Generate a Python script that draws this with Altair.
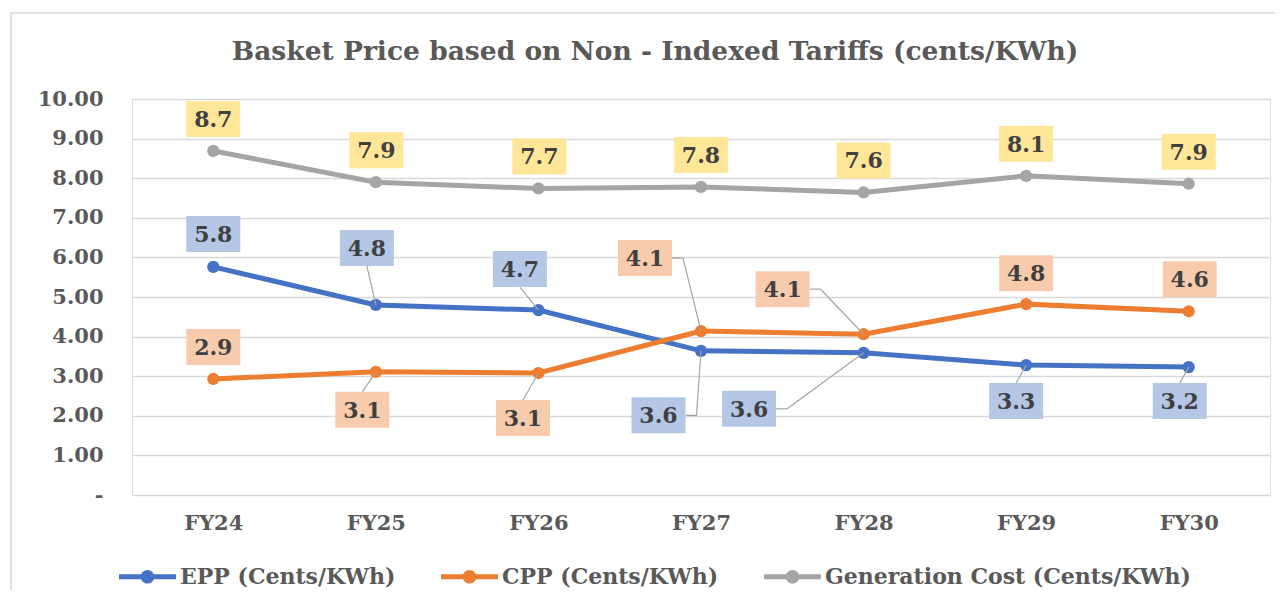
import json
import altair as alt
import pandas as pd

# ---------------- data ----------------
CATEGORIES = ["FY24", "FY25", "FY26", "FY27", "FY28", "FY29", "FY30"]
SERIES = ["EPP (Cents/KWh)", "CPP (Cents/KWh)", "Generation Cost (Cents/KWh)"]
EPP = [5.76, 4.80, 4.67, 3.64, 3.59, 3.28, 3.23]
CPP = [2.93, 3.11, 3.08, 4.14, 4.06, 4.82, 4.64]
GEN = [8.69, 7.90, 7.74, 7.78, 7.64, 8.06, 7.86]
Y_TICKS = [0, 1, 2, 3, 4, 5, 6, 7, 8, 9, 10]
TITLE = "Basket Price based on Non - Indexed Tariffs (cents/KWh)"

# ---------------- style ----------------
LINE_COLORS = ["#4472C4", "#ED7D31", "#A5A5A5"]
BOX_COLORS = ["#B4C7E7", "#F8CBAD", "#FFE699"]
FONT = "DejaVu Serif"
GREY_TXT = "#595959"
W, H = 1138, 396
PXX = W / len(CATEGORIES)
PXY = H / 10.0

# label placement: pixel offsets of label centre from its point
LABEL_DX = {
    "EPP": [0, -9, -18.5, -42.5, -114.5, -10, -9],
    "CPP": [0, -13.5, -15.5, -56, -81, 0, 1],
    "GEN": [0, 0.5, 1, 0, 0, 0, 0],
}
LABEL_DY = {
    "EPP": [-33, -57, -41, 64.5, 56, 36, 34],
    "CPP": [-32, 38, 45, -73, -45, -31, -32],
    "GEN": [-32, -32, -32, -32, -32, -32, -32],
}
LEADER = {
    "EPP": [None, "v", "v", "h", "h", "v", "v"],
    "CPP": [None, "v", "v", "h", "h", None, None],
    "GEN": [None] * 7,
}
BOX_HALF_W, BOX_HALF_H = 27, 18

keys = ["EPP", "CPP", "GEN"]
values = {"EPP": EPP, "CPP": CPP, "GEN": GEN}

pts, leaders = [], []
for si, k in enumerate(keys):
    for i, v in enumerate(values[k]):
        dx, dy = LABEL_DX[k][i], LABEL_DY[k][i]
        lx = i + dx / PXX
        ly = v - dy / PXY
        pts.append({"series": SERIES[si], "idx": i, "value": v, "lx": lx, "ly": ly,
                    "box": BOX_COLORS[si], "lc": LINE_COLORS[si]})
        kind = LEADER[k][i]
        key = f"{k}{i}"
        if kind == "v":
            ay = dy + (BOX_HALF_H if dy < 0 else -BOX_HALF_H)
            path = [(dx, ay), (0, 0)]
        elif kind == "h":
            path = [(dx + BOX_HALF_W, dy), (dx + BOX_HALF_W + 11, dy), (0, 0)]
        else:
            path = []
        for o, (px, py) in enumerate(path):
            leaders.append({"key": key, "ord": o, "x": i + px / PXX, "y": v - py / PXY})

df = pd.DataFrame(pts)
dl = pd.DataFrame(leaders)
one = pd.DataFrame({"t": [TITLE]})

XS = alt.Scale(domain=[-0.5, len(CATEGORIES) - 0.5], nice=False, zero=False)
YS = alt.Scale(domain=[0, 10], nice=False, zero=True)
XAXIS = alt.Axis(
    title=None, values=list(range(len(CATEGORIES))),
    labelExpr=f"{json.dumps(CATEGORIES)}[datum.value]",
    grid=False, domain=False, ticks=False, labelPadding=17,
    labelFont=FONT, labelFontSize=21, labelFontWeight="bold", labelColor=GREY_TXT,
)
YAXIS = alt.Axis(
    title=None, values=Y_TICKS,
    labelExpr="datum.value == 0 ? '-\u00a0\u00a0' : format(datum.value, '.2f')",
    grid=True, gridColor="#D9D9D9", gridWidth=1.5, domain=False, ticks=False,
    labelPadding=29, labelFont=FONT, labelFontSize=21, labelFontWeight="bold",
    labelColor=GREY_TXT,
)

LEG_PATH = ("M-1,-0.085H1V0.085H-1Z"
            "M0.24,0A0.24,0.24 0 1 1 -0.24,0A0.24,0.24 0 1 1 0.24,0Z")
legend = alt.Legend(
    orient="none", legendX=-13, legendY=449, direction="horizontal", title=None,
    symbolType=LEG_PATH, symbolSize=3249, symbolStrokeWidth=0, symbolOpacity=1,
    labelFont=FONT, labelFontSize=22, labelFontWeight="bold", labelColor=GREY_TXT,
    labelOffset=4, columnPadding=45, padding=0, labelLimit=600,
)

border = alt.Chart(one).mark_rect(fill="transparent", stroke="#D9D9D9", strokeWidth=1.5).encode(
    x=alt.value(-121), x2=alt.value(W + 300), y=alt.value(-86), y2=alt.value(H + 300)
)
title = alt.Chart(one).mark_text(
    font=FONT, fontSize=26.5, fontWeight="bold", color=GREY_TXT, align="center", baseline="alphabetic"
).encode(text="t:N", x=alt.value(W / 2 - 46), y=alt.value(-39))

base = alt.Chart(df)
lines = base.mark_line(strokeWidth=5, opacity=1).encode(
    x=alt.X("idx:Q", scale=XS, axis=XAXIS),
    y=alt.Y("value:Q", scale=YS, axis=YAXIS),
    stroke=alt.Stroke("lc:N", scale=None),
    detail="series:N",
    order="idx:Q",
)
points = base.mark_point(filled=True, size=150, opacity=1, shape="circle").encode(
    x=alt.X("idx:Q", scale=XS, axis=XAXIS),
    y=alt.Y("value:Q", scale=YS, axis=YAXIS),
    color=alt.Color("series:N", scale=alt.Scale(domain=SERIES, range=LINE_COLORS), legend=legend),
)
lead = alt.Chart(dl).mark_line(color="#A6A6A6", strokeWidth=1.2).encode(
    x=alt.X("x:Q", scale=XS, axis=XAXIS),
    y=alt.Y("y:Q", scale=YS, axis=YAXIS),
    detail="key:N",
    order="ord:Q",
)
BOX_PATH = "M-1,-0.6667H1V0.6667H-1Z"
boxes = base.mark_point(shape=BOX_PATH, filled=True, size=(2 * BOX_HALF_W) ** 2, opacity=1, strokeWidth=0).encode(
    x=alt.X("lx:Q", scale=XS, axis=XAXIS),
    y=alt.Y("ly:Q", scale=YS, axis=YAXIS),
    fill=alt.Fill("box:N", scale=None),
)
texts = base.mark_text(font=FONT, fontSize=22, fontWeight="bold", color="#404040",
                       align="center", baseline="middle", dy=1).encode(
    x=alt.X("lx:Q", scale=XS, axis=XAXIS),
    y=alt.Y("ly:Q", scale=YS, axis=YAXIS),
    text=alt.Text("value:Q", format=".1f"),
)

chart = alt.layer(border, title, lines, points, lead, boxes, texts).properties(
    width=W, height=H,
    padding={"left": 124, "top": 91, "right": 5, "bottom": 95},
    autosize=alt.AutoSizeParams(type="none"),
).configure_view(strokeWidth=0).configure(background="white")

chart.save("out.html", embed_options={"renderer": "svg", "actions": False})
